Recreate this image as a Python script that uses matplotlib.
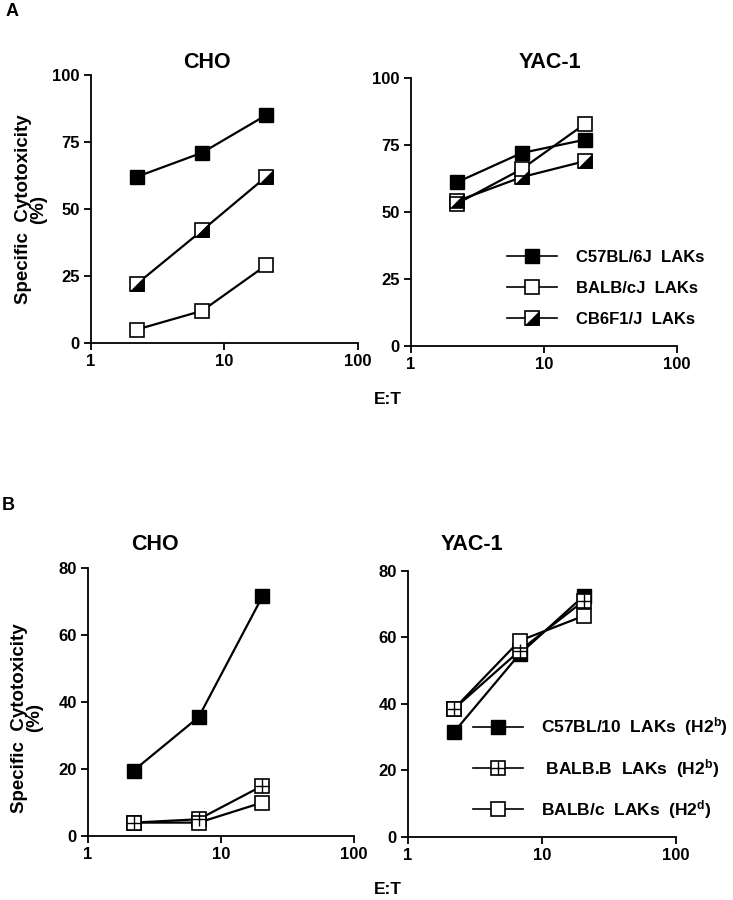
import numpy as np
import matplotlib
matplotlib.use("Agg")
import matplotlib.pyplot as plt
from matplotlib.lines import Line2D
from matplotlib.legend_handler import HandlerTuple

plt.rcParams['font.family'] = ['Liberation Sans', 'DejaVu Sans']
plt.rcParams['font.weight'] = 'bold'
plt.rcParams['mathtext.fontset'] = 'custom'
plt.rcParams['mathtext.rm'] = 'Liberation Sans:bold'
plt.rcParams['mathtext.bf'] = 'Liberation Sans:bold'
plt.rcParams['mathtext.default'] = 'bf'

# E:T ratios
et = [2.2, 6.8, 20.5]

# Panel A (% specific cytotoxicity)
a_cho_c57 = [62, 71, 85]
a_cho_balb = [5, 12, 29]
a_cho_cb6 = [22, 42, 62]
a_yac_c57 = [61, 72, 77]
a_yac_balb = [53, 66, 83]
a_yac_cb6 = [54, 63, 69]
a_labels = ['C57BL/6J  LAKs', 'BALB/cJ  LAKs', 'CB6F1/J  LAKs']

# Panel B
b_cho_c57 = [19.5, 35.5, 71.5]
b_cho_balbb = [4, 5, 15]
b_cho_balbc = [4, 4, 10]
b_yac_c57 = [31.5, 55, 72.5]
b_yac_balbb = [38.5, 56, 71]
b_yac_balbc = [38.5, 59, 66.5]
b_labels = [r'C57BL/10  LAKs  (H2$^{b}$)', r' BALB.B  LAKs  (H2$^{b}$)',
            r'BALB/c  LAKs  (H2$^{d}$)']

MS = 10
LW = 1.6
tri = [(1, -1), (1, 1), (-1, -1), (1, -1)]  # lower-right half


def filled(ax, y, lw=LW, ms=MS):
    ax.plot(et, y, color='black', lw=lw, marker='s', ms=ms, mfc='black',
            mec='black', zorder=3)


def opened(ax, y, lw=LW, ms=MS):
    ax.plot(et, y, color='black', lw=lw, marker='s', ms=ms, mfc='white',
            mec='black', mew=1.2, zorder=3)


def half(ax, y, lw=LW, ms=MS):
    ax.plot(et, y, color='black', lw=lw, marker='s', ms=ms, mfc='white',
            mec='black', mew=1.2, zorder=3)
    ax.plot(et, y, ls='none', marker=tri, ms=ms, mfc='black', mec='black',
            mew=0.5, zorder=4)


def crossed(ax, y, lw=LW, ms=MS):
    ax.plot(et, y, color='black', lw=lw, marker='s', ms=ms, mfc='white',
            mec='black', mew=1.2, zorder=3)
    ax.plot(et, y, ls='none', marker='+', ms=ms, mec='black', mew=1.0,
            zorder=4)


def style(ax, ymax, step):
    ax.set_xscale('log')
    ax.set_xlim(1, 100)
    ax.set_ylim(0, ymax)
    ax.set_xticks([1, 10, 100])
    ax.set_xticklabels(['1', '10', '100'])
    ax.xaxis.set_minor_locator(matplotlib.ticker.NullLocator())
    ax.set_yticks(np.arange(0, ymax + 1, step))
    ax.spines['top'].set_visible(False)
    ax.spines['right'].set_visible(False)
    for s in ['left', 'bottom']:
        ax.spines[s].set_linewidth(1.3)
    ax.tick_params(direction='out', length=5, width=1.3, labelsize=12,
                   pad=3)
    for lab in ax.get_xticklabels() + ax.get_yticklabels():
        lab.set_fontweight('bold')


fig = plt.figure(figsize=(7.33, 9), dpi=100)

ax1 = fig.add_axes([0.1241, 0.6189, 0.3643, 0.2978])
ax2 = fig.add_axes([0.5607, 0.6156, 0.3629, 0.2978])
ax3 = fig.add_axes([0.1200, 0.0711, 0.3629, 0.2978])
ax4 = fig.add_axes([0.5566, 0.0700, 0.3656, 0.2956])

# Panel A
filled(ax1, a_cho_c57)
half(ax1, a_cho_cb6)
opened(ax1, a_cho_balb)
style(ax1, 100, 25)

filled(ax2, a_yac_c57)
half(ax2, a_yac_cb6)
opened(ax2, a_yac_balb)
style(ax2, 100, 25)

hA = [Line2D([], [], color='black', lw=1.2, marker='s', ms=MS, mfc='black'),
      Line2D([], [], color='black', lw=1.2, marker='s', ms=MS, mfc='white', mew=1.2),
      (Line2D([], [], color='black', lw=1.2, marker='s', ms=MS, mfc='white', mew=1.2),
       Line2D([], [], ls='none', marker=tri, ms=MS, mfc='black', mec='black', mew=0.5))]
ax2.legend(hA, a_labels, loc='center left', bbox_to_anchor=(0.36, 0.215),
           frameon=False, fontsize=12, handlelength=3.0, handletextpad=1.15,
           labelspacing=0.95, borderpad=0, borderaxespad=0,
           handler_map={tuple: HandlerTuple(ndivide=1, pad=0)})

# Panel B
filled(ax3, b_cho_c57)
crossed(ax3, b_cho_balbb)
opened(ax3, b_cho_balbc)
style(ax3, 80, 20)

filled(ax4, b_yac_c57)
crossed(ax4, b_yac_balbb)
opened(ax4, b_yac_balbc)
style(ax4, 80, 20)

hB = [Line2D([], [], color='black', lw=1.2, marker='s', ms=MS, mfc='black'),
      (Line2D([], [], color='black', lw=1.2, marker='s', ms=MS, mfc='white', mew=1.2),
       Line2D([], [], ls='none', marker='+', ms=MS, mec='black', mew=1.0)),
      Line2D([], [], color='black', lw=1.2, marker='s', ms=MS, mfc='white', mew=1.2)]
ax4.legend(hB, b_labels, loc='center left', bbox_to_anchor=(0.243, 0.259),
           frameon=False, fontsize=12.5, handlelength=2.9, handletextpad=1.0,
           labelspacing=1.05, borderpad=0, borderaxespad=0,
           handler_map={tuple: HandlerTuple(ndivide=1, pad=0)})

# Titles and labels
fig.text(207 / 733, 1 - 62 / 900, 'CHO', ha='center', va='center',
         fontsize=15.5, fontweight='bold')
fig.text(550 / 733, 1 - 62 / 900, 'YAC-1', ha='center', va='center',
         fontsize=15.5, fontweight='bold')
fig.text(155 / 733, 1 - 545 / 900, 'CHO', ha='center', va='center',
         fontsize=15.5, fontweight='bold')
fig.text(472 / 733, 1 - 545 / 900, 'YAC-1', ha='center', va='center',
         fontsize=15.5, fontweight='bold')

fig.text(31 / 733, 1 - 209 / 900, 'Specific  Cytotoxicity\n(%)',
         rotation=90, ha='center', va='center', fontsize=13.5,
         fontweight='bold', linespacing=0.9)
fig.text(27 / 733, 1 - 718 / 900, 'Specific  Cytotoxicity\n(%)',
         rotation=90, ha='center', va='center', fontsize=13.5,
         fontweight='bold', linespacing=0.9)

fig.text(388 / 733, 1 - 400 / 900, 'E:T', ha='center', va='center',
         fontsize=12.5, fontweight='bold')
fig.text(388 / 733, 1 - 890 / 900, 'E:T', ha='center', va='center',
         fontsize=12.5, fontweight='bold')

fig.text(6 / 733, 1 - 12 / 900, 'A', ha='left', va='center', fontsize=13,
         fontweight='bold')
fig.text(2 / 733, 1 - 505 / 900, 'B', ha='left', va='center', fontsize=13,
         fontweight='bold')

fig.savefig('out.png', dpi=100)
